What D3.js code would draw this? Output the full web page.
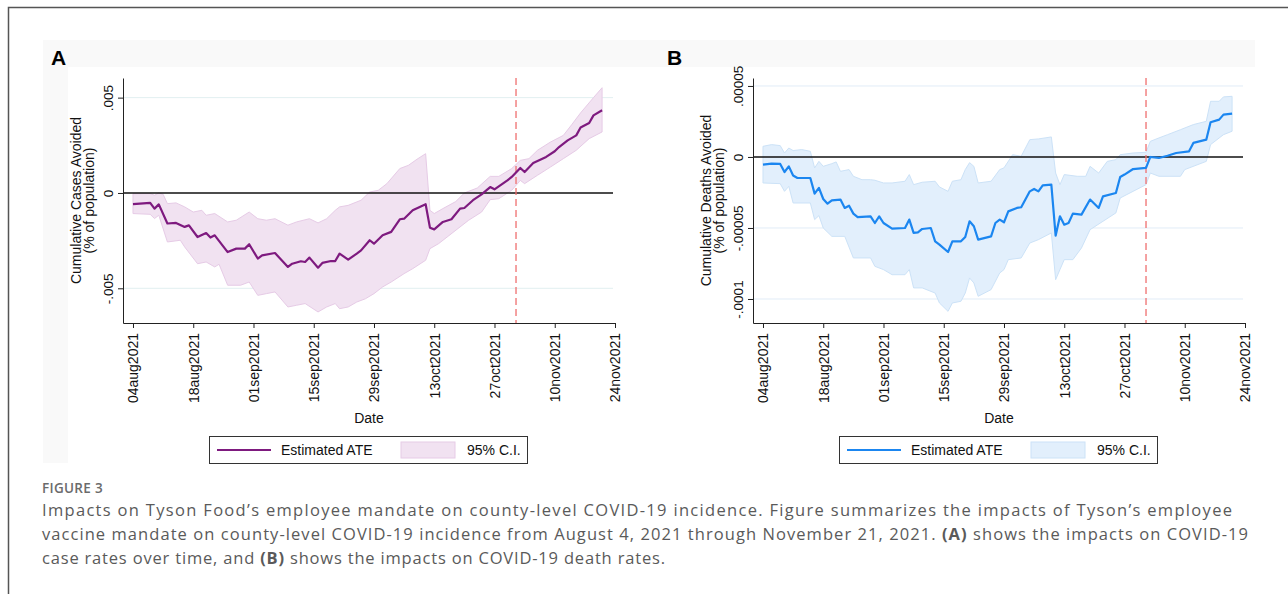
<!DOCTYPE html>
<html>
<head>
<meta charset="utf-8">
<script src="https://cdn.jsdelivr.net/npm/d3@7"></script>
<style>
  body { margin: 0; background: #fff; }
  svg { display: block; }
</style>
</head>
<body>
<div id="fig"></div>
<script>
// day offsets are counted from 04aug2021
var startDate = Date.UTC(2021, 7, 4);
var tickDays = [0, 14, 28, 42, 56, 70, 84, 98, 112];
var mandateDay = 89; // 01nov2021

// panel A: cumulative cases avoided, [day, value]
var casesAte = [[0,-0.00059],[4,-0.00052],[5,-0.00082],[6,-0.0006],[8,-0.0016],[10,-0.00157],[12,-0.00178],[13,-0.0017],
  [15,-0.00231],[17,-0.0021],[18,-0.00234],[19,-0.00222],[22,-0.0031],[24,-0.00292],[26,-0.00292],[27,-0.00269],
  [29,-0.00344],[30,-0.00327],[33,-0.00315],[36,-0.00388],[37,-0.00371],[39,-0.00358],[40,-0.00362],[41,-0.00339],
  [43,-0.00392],[44,-0.00367],[46,-0.00357],[47,-0.00357],[48,-0.00318],[50,-0.0035],[52,-0.00318],[53,-0.00301],
  [55,-0.00248],[56,-0.00266],[58,-0.00222],[60,-0.00204],[62,-0.00138],[63,-0.00135],[65,-0.00091],[68,-0.00059],
  [69,-0.00182],[70,-0.00191],[72,-0.00152],[74,-0.00138],[76,-0.00082],[77,-0.00079],[79,-0.00038],[81,-0.00007],
  [83,0.00031],[84,0.00019],[87,0.00066],[88,0.00084],[90,0.00131],[91,0.0011],[93,0.00157],[96,0.00189],
  [98,0.00219],[99,0.00241],[101,0.00276],[103,0.00302],[104,0.00343],[106,0.00367],[107,0.00407],[109,0.00434]];
var casesHi = [[0,-0.00004],[4,-0.00003],[5,-0.00012],[6,0],[7,-0.00007],[8,-0.00056],[10,-0.00052],[12,-0.00073],
  [14,-0.001],[16,-0.00091],[17,-0.00117],[19,-0.00108],[22,-0.00152],[24,-0.00143],[27,-0.001],[29,-0.00135],
  [31,-0.00143],[33,-0.00135],[36,-0.00169],[38,-0.00152],[41,-0.00135],[43,-0.00157],[45,-0.00135],[47,-0.00091],
  [48,-0.00073],[50,-0.00065],[53,-0.00038],[55,0.00005],[57,0.00014],[59,0.00049],[62,0.00128],[64,0.00145],
  [66,0.00177],[68,0.00206],[69,-0.00091],[70,-0.00108],[72,-0.00082],[75,-0.00045],[77,0],[80,0.00026],
  [83,0.00087],[85,0.00087],[88,0.00128],[90,0.00171],[92,0.0018],[94,0.00224],[97,0.00267],[100,0.00302],
  [102,0.0036],[104,0.0042],[107,0.005],[109,0.00552]];
var casesLo = [[0,-0.00108],[4,-0.00112],[5,-0.00134],[6,-0.00117],[8,-0.00257],[11,-0.00248],[12,-0.00283],
  [15,-0.00371],[17,-0.00362],[19,-0.00388],[20,-0.00374],[22,-0.00484],[25,-0.00484],[27,-0.00467],[29,-0.00537],
  [31,-0.00528],[33,-0.00519],[36,-0.00598],[38,-0.00589],[40,-0.0058],[43,-0.00624],[45,-0.00598],[46,-0.00589],
  [47,-0.0058],[48,-0.00607],[50,-0.00598],[52,-0.00572],[54,-0.00555],[56,-0.00528],[58,-0.00493],[60,-0.00467],
  [63,-0.00423],[65,-0.00397],[68,-0.00353],[69,-0.00292],[71,-0.00266],[73,-0.00231],[76,-0.00178],[78,-0.00143],
  [81,-0.001],[83,-0.00035],[85,-0.0003],[88,0.00014],[90,0.00066],[91,0.00049],[94,0.00093],[97,0.00136],
  [100,0.0018],[103,0.00224],[106,0.00285],[109,0.0032]];
var casesTicks = [0.005, 0, -0.005];
var casesTickLabels = [".005", "0", "-.005"];

// panel B: cumulative deaths avoided, [day, value]
var deathsAte = [[0,-0.54e-5],[2,-0.47e-5],[4,-0.49e-5],[5,-1.06e-5],[6,-0.66e-5],[7,-1.31e-5],[8,-1.48e-5],[11,-1.48e-5],
  [12,-2.58e-5],[13,-2.18e-5],[14,-2.96e-5],[15,-3.29e-5],[16,-3.05e-5],[18,-3.0e-5],[19,-3.59e-5],[20,-3.43e-5],
  [21,-3.99e-5],[22,-4.23e-5],[25,-4.18e-5],[26,-4.65e-5],[27,-4.18e-5],[28,-4.65e-5],[30,-5.05e-5],[33,-5.0e-5],
  [34,-4.41e-5],[35,-5.35e-5],[36,-5.31e-5],[37,-5.07e-5],[39,-5.0e-5],[40,-5.94e-5],[41,-6.17e-5],[43,-6.69e-5],
  [44,-5.94e-5],[46,-5.94e-5],[47,-5.63e-5],[48,-4.53e-5],[49,-4.88e-5],[50,-5.82e-5],[53,-5.59e-5],[54,-4.65e-5],
  [55,-4.41e-5],[56,-4.6e-5],[57,-3.83e-5],[59,-3.59e-5],[60,-3.54e-5],[62,-2.42e-5],[63,-2.25e-5],[64,-2.42e-5],
  [65,-2.0e-5],[67,-1.95e-5],[68,-5.54e-5],[69,-4.18e-5],[70,-4.77e-5],[71,-4.65e-5],[72,-3.99e-5],[74,-4.06e-5],
  [76,-3.0e-5],[78,-3.59e-5],[79,-2.77e-5],[82,-2.54e-5],[83,-1.41e-5],[84,-1.24e-5],[86,-0.85e-5],[89,-0.77e-5],
  [90,0],[92,-0.07e-5],[94,0.09e-5],[96,0.28e-5],[99,0.4e-5],[100,0.99e-5],[103,1.22e-5],[104,2.44e-5],
  [106,2.63e-5],[107,2.98e-5],[109,3.05e-5]];
var deathsHi = [[0,0.75e-5],[2,0.87e-5],[4,0.8e-5],[5,0.28e-5],[6,0.63e-5],[7,0.45e-5],[9,0.52e-5],[11,0.4e-5],
  [12,-0.77e-5],[13,-0.31e-5],[14,-0.66e-5],[16,-0.47e-5],[17,-0.35e-5],[18,-1.01e-5],[20,-0.89e-5],[21,-1.36e-5],
  [23,-1.6e-5],[25,-1.6e-5],[26,-1.64e-5],[28,-1.83e-5],[30,-1.83e-5],[33,-1.71e-5],[34,-1.24e-5],[35,-1.95e-5],
  [37,-1.78e-5],[40,-1.71e-5],[41,-2.11e-5],[43,-2.42e-5],[44,-1.71e-5],[46,-1.6e-5],[47,-0.89e-5],[48,-0.4e-5],
  [49,-0.66e-5],[50,-1.83e-5],[53,-1.71e-5],[55,-0.89e-5],[56,-0.77e-5],[58,0.16e-5],[60,0.05e-5],[62,1.22e-5],
  [64,1.27e-5],[67,1.41e-5],[68,-1.13e-5],[69,-1.95e-5],[70,-1.24e-5],[73,-1.36e-5],[75,-1.36e-5],[76,-0.66e-5],
  [78,-1.13e-5],[80,-0.31e-5],[82,-0.19e-5],[83,0.16e-5],[86,0.28e-5],[89,0.33e-5],[90,1.1e-5],[92,1.34e-5],
  [94,1.57e-5],[97,1.92e-5],[100,2.28e-5],[103,2.51e-5],[104,3.92e-5],[106,3.92e-5],[107,4.23e-5],[109,4.27e-5]];
var deathsLo = [[0,-1.83e-5],[4,-1.88e-5],[5,-2.42e-5],[6,-2.07e-5],[7,-3.24e-5],[11,-3.24e-5],[12,-4.41e-5],
  [13,-4.13e-5],[14,-5.0e-5],[16,-5.59e-5],[19,-5.59e-5],[21,-7.11e-5],[25,-7.11e-5],[26,-7.7e-5],[28,-7.93e-5],
  [30,-8.29e-5],[33,-8.29e-5],[34,-7.93e-5],[35,-9.22e-5],[37,-9.22e-5],[40,-9.58e-5],[41,-10.28e-5],[43,-10.87e-5],
  [44,-10.28e-5],[46,-10.16e-5],[47,-9.58e-5],[48,-8.52e-5],[49,-8.87e-5],[50,-9.81e-5],[53,-9.34e-5],[55,-8.17e-5],
  [56,-7.93e-5],[57,-7.23e-5],[60,-7.11e-5],[62,-6.06e-5],[64,-5.82e-5],[67,-5.35e-5],[68,-8.64e-5],[69,-7.93e-5],
  [70,-7.23e-5],[72,-7.23e-5],[74,-6.41e-5],[76,-5.12e-5],[79,-4.53e-5],[82,-3.94e-5],[83,-2.89e-5],[86,-2.42e-5],
  [89,-1.95e-5],[90,-1.13e-5],[92,-1.36e-5],[97,-1.36e-5],[98,-0.89e-5],[103,-0.31e-5],[104,0.87e-5],[107,1.57e-5],
  [109,1.81e-5]];
var deathsTicks = [0.00005, 0, -0.00005, -0.0001];
var deathsTickLabels = [".00005", "0", "-.00005", "-.0001"];

var legendLabels = ["Estimated ATE", "95% C.I."];

var captionHead = "FIGURE 3";
var captionLines = [
  [["Impacts on Tyson Food\u2019s employee mandate on county-level COVID-19 incidence. Figure summarizes the impacts of Tyson\u2019s employee", false]],
  [["vaccine mandate on county-level COVID-19 incidence from August 4, 2021 through November 21, 2021. ", false], ["(A)", true], [" shows the impacts on COVID-19", false]],
  [["case rates over time, and ", false], ["(B)", true], [" shows the impacts on COVID-19 death rates.", false]]
];
var captionWidths = [1190, 1206, 623];

var W = 1288, H = 594;
var plotTop = 78, plotBottom = 323, plotWidth = 492;
var stataFont = "Liberation Sans, Arial, sans-serif";

var svg = d3.select("#fig").append("svg")
  .attr("width", W)
  .attr("height", H);

// page frame (top + left edges)
svg.append("path")
  .attr("d", "M8.5,594V7.5H1288")
  .attr("fill", "none")
  .attr("stroke", "#555")
  .attr("stroke-width", 1.5);

// graph region background
svg.append("rect").attr("x", 43).attr("y", 40).attr("width", 1212).attr("height", 423).attr("fill", "#f9f9f9");
svg.append("rect").attr("x", 68).attr("y", 67).attr("width", 1187).attr("height", 396).attr("fill", "#fff");

function dayToDate(d) { return new Date(startDate + d * 864e5); }

function drawPanel(p) {
  var g = svg.append("g").attr("transform", `translate(${p.left},0)`);

  var x = d3.scaleUtc()
    .domain([dayToDate(-2.32), dayToDate(112)])
    .range([0, plotWidth]);
  var y = d3.scaleLinear()
    .domain(p.yDomain)
    .range([plotBottom, plotTop]);

  // panel letter
  svg.append("text")
    .attr("x", p.letterX).attr("y", 65)
    .attr("font-family", stataFont).attr("font-weight", "bold").attr("font-size", 21)
    .attr("fill", "#000")
    .text(p.letter);

  // gridlines
  g.selectAll(".grid")
    .data(p.ticks.filter(d => d !== 0))
    .enter().append("line")
    .attr("x1", 1).attr("x2", plotWidth - 2)
    .attr("y1", d => y(d)).attr("y2", d => y(d))
    .attr("stroke", p.grid).attr("stroke-width", 1);

  // confidence band: upper edge, then lower edge back
  var edge = d3.line().x(d => x(dayToDate(d[0]))).y(d => y(d[1]));
  g.append("path")
    .attr("d", edge(p.hi.concat(p.lo.slice().reverse())) + "Z")
    .attr("fill", p.fill)
    .attr("stroke", p.edge)
    .attr("stroke-width", 1);

  // zero line
  g.append("line")
    .attr("x1", 0).attr("x2", plotWidth - 2)
    .attr("y1", y(0)).attr("y2", y(0))
    .attr("stroke", "#111").attr("stroke-width", 1.5);

  // mandate date
  g.append("line")
    .attr("x1", x(dayToDate(mandateDay))).attr("x2", x(dayToDate(mandateDay)))
    .attr("y1", plotTop).attr("y2", plotBottom)
    .attr("stroke", "#ef6f6f").attr("stroke-width", 1.3)
    .attr("stroke-dasharray", "7,4");

  // estimate
  g.append("path")
    .attr("d", edge(p.ate))
    .attr("fill", "none")
    .attr("stroke", p.line)
    .attr("stroke-width", 2.2)
    .attr("stroke-linejoin", "round");

  // y axis
  var yAxis = g.append("g")
    .call(d3.axisLeft(y).tickValues(p.ticks).tickFormat((d, i) => p.tickLabels[i]).tickSize(5).tickSizeOuter(0));
  yAxis.attr("font-family", stataFont).attr("font-size", 13.5);
  yAxis.select(".domain").attr("stroke", "#222");
  yAxis.selectAll(".tick line").attr("stroke", "#222");
  yAxis.selectAll(".tick text")
    .attr("x", null).attr("y", null).attr("dy", "0.35em")
    .attr("transform", "translate(-15,0) rotate(-90)")
    .attr("text-anchor", "middle")
    .attr("fill", "#111");

  // x axis
  var fmt = d3.utcFormat("%d%b%Y");
  var xAxis = g.append("g")
    .attr("transform", `translate(0,${plotBottom})`)
    .call(d3.axisBottom(x).tickValues(tickDays.map(dayToDate)).tickFormat(d => fmt(d).toLowerCase()).tickSize(5).tickSizeOuter(0));
  xAxis.attr("font-family", stataFont).attr("font-size", 14);
  xAxis.select(".domain").attr("stroke", "#222");
  xAxis.selectAll(".tick line").attr("stroke", "#222");
  xAxis.selectAll(".tick text")
    .attr("x", null).attr("y", null).attr("dy", "0.35em")
    .attr("transform", "translate(0,10) rotate(-90)")
    .attr("text-anchor", "end")
    .attr("fill", "#111");

  // axis titles
  [[p.ylab1, -47], [p.ylab2, -34]].forEach(function(t) {
    g.append("text")
      .attr("transform", `translate(${t[1]},${(plotTop + plotBottom) / 2}) rotate(-90)`)
      .attr("dy", "0.35em")
      .attr("text-anchor", "middle")
      .attr("font-family", stataFont).attr("font-size", 14)
      .attr("fill", "#111")
      .text(t[0]);
  });
  g.append("text")
    .attr("x", plotWidth / 2).attr("y", 423)
    .attr("text-anchor", "middle")
    .attr("font-family", stataFont).attr("font-size", 14)
    .attr("fill", "#111")
    .text("Date");

  // legend
  var lg = g.append("g").attr("transform", "translate(86,436)");
  lg.append("rect")
    .attr("x", 0.5).attr("y", 0.5).attr("width", 318).attr("height", 27)
    .attr("fill", "#fff").attr("stroke", "#333").attr("stroke-width", 1);
  lg.append("line")
    .attr("x1", 8).attr("x2", 62).attr("y1", 14).attr("y2", 14)
    .attr("stroke", p.line).attr("stroke-width", 2.2);
  lg.append("rect")
    .attr("x", 192).attr("y", 6).attr("width", 54).attr("height", 16)
    .attr("fill", p.fill).attr("stroke", p.edge);
  lg.selectAll(".lbl")
    .data(legendLabels)
    .enter().append("text")
    .attr("x", (d, i) => i === 0 ? 72 : 258)
    .attr("y", 19)
    .attr("font-family", stataFont).attr("font-size", 14)
    .attr("fill", "#111")
    .text(d => d);
}

drawPanel({
  left: 123, letter: "A", letterX: 51,
  ate: casesAte, hi: casesHi, lo: casesLo,
  yDomain: [-0.00682, 0.00603],
  ticks: casesTicks, tickLabels: casesTickLabels,
  ylab1: "Cumulative Cases Avoided", ylab2: "(% of population)",
  line: "#7e1a7f", fill: "#f1e2f1", edge: "#e6cbe6", grid: "#e2eff1"
});

drawPanel({
  left: 753, letter: "B", letterX: 667,
  ate: deathsAte, hi: deathsHi, lo: deathsLo,
  yDomain: [-0.0001169, 0.0000556],
  ticks: deathsTicks, tickLabels: deathsTickLabels,
  ylab1: "Cumulative Deaths Avoided", ylab2: "(% of population)",
  line: "#1b86f0", fill: "#e2effc", edge: "#cce2f7", grid: "#e1ecf7"
});

// caption
var capFont = "'Open Sans', 'Noto Sans', sans-serif";
svg.append("text")
  .attr("x", 42).attr("y", 493)
  .attr("font-family", capFont).attr("font-size", 13.5).attr("font-weight", 600)
  .attr("letter-spacing", 0.3)
  .attr("fill", "#6b6b6b")
  .text(captionHead);

captionLines.forEach(function(parts, i) {
  var t = svg.append("text")
    .attr("x", 42).attr("y", 516 + i * 24)
    .attr("font-family", capFont).attr("font-size", 16.5)
    .attr("fill", "#5a5a5a")
    .attr("textLength", captionWidths[i])
    .attr("lengthAdjust", "spacing");
  parts.forEach(function(pt) {
    t.append("tspan").attr("font-weight", pt[1] ? 700 : 400).text(pt[0]);
  });
});
</script>
</body>
</html>
